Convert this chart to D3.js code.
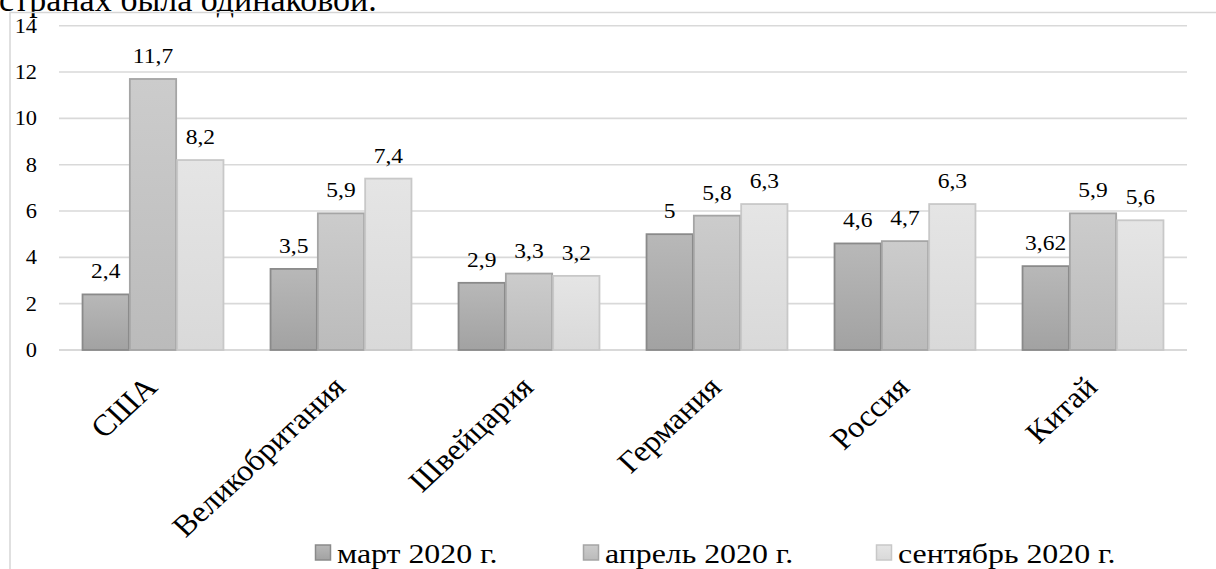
<!DOCTYPE html>
<html><head><meta charset="utf-8">
<script src="https://cdn.jsdelivr.net/npm/d3@7"></script>
<style>body{margin:0;background:#fff;overflow:hidden}svg{display:block}</style>
</head><body>
<svg id="c" width="1216" height="569"></svg>
<script>
const categories = ["США","Великобритания","Швейцария","Германия","Россия","Китай"];
const seriesNames = ["март 2020  г.","апрель 2020  г.","сентябрь 2020 г."];
const march = [2.4,3.5,2.9,5,4.6,3.62];
const april = [11.7,5.9,3.3,5.8,4.7,5.9];
const september = [8.2,7.4,3.2,6.3,6.3,5.6];
const yTicks = [0,2,4,6,8,10,12,14];
const topText = "странах была одинаковой.";

const series = [march, april, september];
const fills = [["#b8b8b8","#a2a2a2"],["#cccccc","#bbbbbb"],["#e5e5e5","#d9d9d9"]];
const strokes = ["#8a8a8a","#a5a5a5","#c8c8c8"];
const font = "'Liberation Serif','Times New Roman',serif";
const SX = 1.12;

const svg = d3.select("#c");
const defs = svg.append("defs");
fills.forEach((f,i)=>{
  const g = defs.append("linearGradient").attr("id","g"+i).attr("x1",0).attr("y1",0).attr("x2",0).attr("y2",1);
  g.append("stop").attr("offset","0%").attr("stop-color",f[0]);
  g.append("stop").attr("offset","100%").attr("stop-color",f[1]);
});

svg.append("text").attr("transform","translate(-1,10.5) scale(1.03,1)")
  .attr("font-family",font).attr("font-size",33).attr("fill","#000").text(topText);

svg.append("rect").attr("x",10).attr("y",12.5).attr("width",1400).attr("height",700)
  .attr("fill","none").attr("stroke","#d6d6d6").attr("stroke-width",1.5);

const x0 = d3.scaleBand().domain(categories).range([59,1187]).paddingInner(0.245).paddingOuter(0.1225);
const x1 = d3.scaleBand().domain(d3.range(3)).range([0,x0.bandwidth()]);
const y = d3.scaleLinear().domain([0,14]).range([350,25.7]);

// gridlines
svg.append("g").selectAll("line").data(yTicks).join("line")
  .attr("x1",59).attr("x2",1187).attr("y1",d=>y(d)).attr("y2",d=>y(d))
  .attr("stroke","#d9d9d9").attr("stroke-width",d=>d===0?2.2:1.6);

// y tick labels via axis
const yAxis = svg.append("g").attr("transform","translate(46,0)")
  .call(d3.axisLeft(y).tickValues(yTicks).tickSize(0).tickPadding(8).tickFormat(d=>d));
yAxis.select(".domain").remove();
yAxis.selectAll("text").attr("font-family",font).attr("font-size",20).attr("fill","#000")
  .attr("dy","0.33em").attr("transform",`scale(${SX},1)`);

const fmt = v => String(v).replace(".",",");

const groups = svg.append("g").selectAll("g").data(categories).join("g")
  .attr("transform",d=>`translate(${x0(d)},0)`);
groups.each(function(c,ci){
  const g = d3.select(this);
  series.forEach((s,si)=>{
    const v = s[ci];
    g.append("rect").attr("x",x1(si)+0.5).attr("width",x1.bandwidth()-1)
      .attr("y",y(v)).attr("height",y(0)-y(v))
      .attr("fill",`url(#g${si})`).attr("stroke",strokes[si]).attr("stroke-width",1.8);
    g.append("text")
      .attr("transform",`translate(${x1(si)+x1.bandwidth()/2},${y(v)-16}) scale(${SX},1)`)
      .attr("text-anchor","middle").attr("font-family",font).attr("font-size",21).attr("fill","#000")
      .text(fmt(v));
  });
});

// category labels
svg.append("g").selectAll("text").data(categories).join("text")
  .attr("transform",d=>`translate(${x0(d)+x0.bandwidth()/2+6},389) scale(1.08,1) rotate(-45)`)
  .attr("text-anchor","end").attr("font-family",font).attr("font-size",30).attr("fill","#000")
  .text(d=>d);

// legend
const legX = [315,583,876];
const leg = svg.append("g").selectAll("g").data(seriesNames).join("g")
  .attr("transform",(d,i)=>`translate(${legX[i]},0)`);
leg.append("rect").attr("x",0.5).attr("y",545).attr("width",15).attr("height",15)
  .attr("fill",(d,i)=>`url(#g${i})`).attr("stroke",(d,i)=>strokes[i]).attr("stroke-width",1.5);
leg.append("text").attr("transform",`translate(22,563) scale(1.18,1)`)
  .attr("font-family",font).attr("font-size",27).attr("fill","#000")
  .text(d=>d);
</script>
</body></html>
